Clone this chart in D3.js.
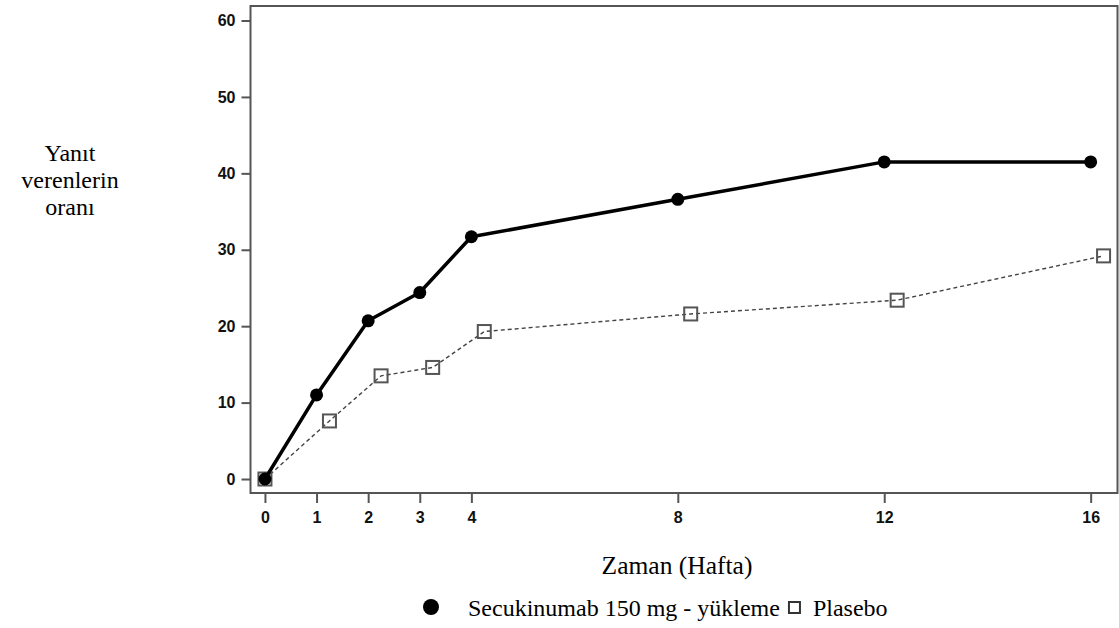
<!DOCTYPE html>
<html><head><meta charset="utf-8">
<script src="https://cdn.jsdelivr.net/npm/d3@7/dist/d3.min.js"></script>
<style>html,body{margin:0;padding:0;background:#fff;}</style>
</head><body>
<svg id="c" width="1119" height="628"></svg>
<script>
const weeksSec = [0, 1, 2, 3, 4, 8, 12, 16];
const secValues = [0, 11.0, 20.7, 24.4, 31.7, 36.6, 41.5, 41.5];
const weeksPla = [0, 1.25, 2.25, 3.25, 4.25, 8.25, 12.25, 16.25];
const plaValues = [0, 7.6, 13.5, 14.6, 19.3, 21.6, 23.4, 29.2];
const xTicks = [0, 1, 2, 3, 4, 8, 12, 16];
const yTicks = [0, 10, 20, 30, 40, 50, 60];
const yTitleLines = ["Yanıt", "verenlerin", "oranı"];
const xTitle = "Zaman (Hafta)";
const legendLabels = ["Secukinumab 150 mg - yükleme", "Plasebo"];

const svg = d3.select("#c");
const L = 250.5, R = 1117.5, T = 6, B = 493;
const x = d3.scaleLinear().domain([-0.28, 16.52]).range([L, R]);
const y = d3.scaleLinear().domain([-1.83, 61.9]).range([B, T]);
const axisColor = "#555";
const tickFont = "'Liberation Sans', Arial, sans-serif";
const serif = "'Liberation Serif', 'Times New Roman', serif";

// frame
svg.append("rect").attr("x", L).attr("y", T).attr("width", R - L).attr("height", B - T)
  .attr("fill", "none").attr("stroke", axisColor).attr("stroke-width", 2);

// y axis
const ya = svg.append("g").attr("transform", `translate(${L},0)`)
  .call(d3.axisLeft(y).tickValues(yTicks).tickSize(9).tickPadding(6).tickFormat(d3.format("d")));
ya.select(".domain").remove();
ya.selectAll("line").attr("stroke", axisColor).attr("stroke-width", 2);
ya.selectAll("text").attr("font-family", tickFont).attr("font-size", 16).attr("font-weight", "bold").attr("fill", "#111");

// x axis
const xa = svg.append("g").attr("transform", `translate(0,${B})`)
  .call(d3.axisBottom(x).tickValues(xTicks).tickSize(10).tickPadding(9).tickFormat(d3.format("d")));
xa.select(".domain").remove();
xa.selectAll("line").attr("stroke", axisColor).attr("stroke-width", 2);
xa.selectAll("text").attr("font-family", tickFont).attr("font-size", 16).attr("font-weight", "bold").attr("fill", "#111");

// series data
const plaData = weeksPla.map((w, i) => [w, plaValues[i]]);
const secData = weeksSec.map((w, i) => [w, secValues[i]]);
const line = d3.line().x(d => x(d[0])).y(d => y(d[1]));

// placebo
svg.append("path").datum(plaData).attr("d", line).attr("fill", "none")
  .attr("stroke", "#444").attr("stroke-width", 1.4).attr("stroke-dasharray", "4,3");
const sq = 13;
svg.selectAll(".pla").data(plaData).enter().append("rect")
  .attr("x", d => x(d[0]) - sq / 2).attr("y", d => y(d[1]) - sq / 2)
  .attr("width", sq).attr("height", sq)
  .attr("fill", "none").attr("stroke", "#555").attr("stroke-width", 2);

// secukinumab
svg.append("path").datum(secData).attr("d", line).attr("fill", "none")
  .attr("stroke", "#000").attr("stroke-width", 3.5).attr("stroke-linejoin", "round");
svg.selectAll(".sec").data(secData).enter().append("circle")
  .attr("cx", d => x(d[0])).attr("cy", d => y(d[1])).attr("r", 6.5).attr("fill", "#000");

// y title
const yt = svg.append("text").attr("font-family", serif).attr("font-size", 24).attr("fill", "#000").attr("text-anchor", "middle");
yTitleLines.forEach((t, i) => yt.append("tspan").attr("x", 70).attr("y", 161 + i * 27).text(t));

// x title
svg.append("text").attr("x", 677).attr("y", 574).attr("text-anchor", "middle")
  .attr("font-family", serif).attr("font-size", 25.5).attr("fill", "#000").text(xTitle);

// legend
const lg = svg.append("g");
lg.append("circle").attr("cx", 431).attr("cy", 607).attr("r", 8).attr("fill", "#000");
const t1 = lg.append("text").attr("x", 468).attr("y", 616).attr("font-family", serif).attr("font-size", 24).attr("fill", "#000").text(legendLabels[0]);
const w1 = t1.node().getComputedTextLength();
const sqx = 468 + w1 + 9;
lg.append("rect").attr("x", sqx).attr("y", 602).attr("width", 11).attr("height", 11)
  .attr("fill", "none").attr("stroke", "#333").attr("stroke-width", 2);
lg.append("text").attr("x", sqx + 24).attr("y", 616).attr("font-family", serif).attr("font-size", 24).attr("fill", "#000").text(legendLabels[1]);
</script>
</body></html>
